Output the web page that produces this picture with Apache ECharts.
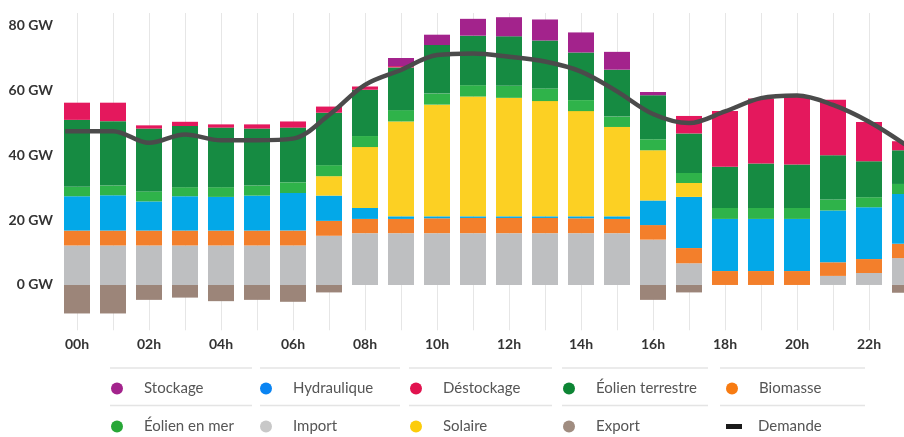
<!DOCTYPE html>
<html>
<head>
<meta charset="utf-8">
<script src="https://cdn.jsdelivr.net/npm/echarts@6/dist/echarts.min.js"></script>
<style>
  html, body { margin: 0; padding: 0; background: #fff; }
  #chart { width: 904px; height: 437px; }
</style>
</head>
<body>
<div id="chart"></div>
<script>
const HOURS = ['00h', '01h', '02h', '03h', '04h', '05h', '06h', '07h', '08h', '09h', '10h', '11h',
  '12h', '13h', '14h', '15h', '16h', '17h', '18h', '19h', '20h', '21h', '22h', '23h'];
const Y_TICKS = [0, 20, 40, 60, 80];

// GW
const importGW = [12.2, 12.2, 12.2, 12.2, 12.2, 12.2, 12.2, 15.2, 16.0, 16.0, 16.0, 16.0,
  16.0, 16.0, 16.0, 16.0, 14.0, 6.7, 0, 0, 0, 2.8, 3.7, 8.3];
const biomasse = [4.6, 4.6, 4.6, 4.6, 4.6, 4.6, 4.6, 4.6, 4.4, 4.4, 4.6, 4.7,
  4.7, 4.7, 4.6, 4.4, 4.5, 4.7, 4.3, 4.3, 4.3, 4.2, 4.3, 4.4];
const hydraulique = [10.6, 10.9, 9.0, 10.6, 10.4, 10.8, 11.6, 7.8, 3.4, 0.8, 0.6, 0.5,
  0.5, 0.5, 0.6, 0.8, 7.6, 15.8, 16.1, 16.1, 16.1, 16.0, 16.0, 15.4];
const solaire = [0, 0, 0, 0, 0, 0, 0, 6.0, 18.8, 29.3, 34.5, 37.0,
  36.6, 35.6, 32.5, 27.6, 15.5, 4.3, 0, 0, 0, 0, 0, 0];
const eolienMer = [2.9, 3.0, 3.1, 2.8, 3.0, 3.1, 3.3, 3.4, 3.4, 3.5, 3.4, 3.5,
  3.7, 3.9, 3.4, 3.2, 3.4, 3.1, 3.4, 3.4, 3.4, 3.4, 3.1, 3.1];
const eolienTerrestre = [20.7, 19.9, 19.4, 18.9, 18.4, 17.6, 16.9, 16.2, 14.3, 13.2, 15.0, 15.3,
  15.3, 14.8, 14.7, 14.5, 13.6, 12.2, 12.7, 13.7, 13.4, 13.7, 11.1, 10.4];
const destockage = [5.3, 5.7, 1.0, 1.3, 1.0, 1.3, 1.9, 1.9, 1.0, 0.4, 0, 0,
  0, 0, 0, 0, 0, 5.4, 17.2, 20.1, 21.2, 17.1, 12.1, 2.8];
const stockage = [0, 0, 0, 0, 0, 0, 0, 0, 0, 2.5, 3.2, 5.2,
  5.9, 6.5, 6.2, 5.5, 1.0, 0, 0, 0, 0, 0, 0, 0];
const exportGW = [-8.8, -8.8, -4.6, -3.9, -5.0, -4.6, -5.2, -2.3, 0, 0, 0, 0,
  0, 0, 0, 0, -4.6, -2.3, 0, 0, 0, 0, 0, -2.4];

// demand curve starts a little before 00h
const demandeHeures = [-0.33, 0, 1, 2, 3, 4, 5, 6, 7, 8, 9, 10, 11,
  12, 13, 14, 15, 16, 17, 18, 19, 20, 21, 22, 23];
const demande = [47.5, 47.5, 47.5, 43.9, 46.5, 44.7, 44.7, 45.2, 52.5, 61.8, 66.4, 71.0, 71.5,
  70.5, 69.0, 65.9, 59.8, 52.8, 50.0, 53.6, 57.7, 58.5, 55.6, 50.4, 43.4];

const COLORS = {
  'Stockage': '#a3238c',
  'Hydraulique': '#03a8e8',
  'Déstockage': '#e4185d',
  'Éolien terrestre': '#168b42',
  'Biomasse': '#f37f2b',
  'Éolien en mer': '#2fb34a',
  'Import': '#bebfc1',
  'Solaire': '#fcd023',
  'Export': '#9c8579',
  'Demande': '#4b4b4b'
};
const LEGEND_ICON = {
  'Stockage': '#a3238c', 'Hydraulique': '#0a84f2', 'Déstockage': '#e1134f',
  'Éolien terrestre': '#0d8534', 'Biomasse': '#f77b12', 'Éolien en mer': '#27a737',
  'Import': '#c8c8c8', 'Solaire': '#fccc0a', 'Export': '#a08c80', 'Demande': '#1a1a1a'
};

const FONT = 'Lato, "Noto Sans", sans-serif';

function barSeries(name, data) {
  return {
    name: name,
    type: 'bar',
    stack: 'total',
    data: data,
    barWidth: 26,
    itemStyle: { color: COLORS[name] },
    emphasis: { disabled: true }
  };
}

// legend layout: 5 columns x 2 rows
const LEGEND_ROWS = [
  ['Stockage', 'Hydraulique', 'Déstockage', 'Éolien terrestre', 'Biomasse'],
  ['Éolien en mer', 'Import', 'Solaire', 'Export', 'Demande']
];
const COL_X = [111, 260, 410, 563, 726];
const ROW_Y = [381, 419];

const legends = [];
LEGEND_ROWS.forEach((row, r) => {
  row.forEach((name, c) => {
    const isLine = name === 'Demande';
    legends.push({
      data: [{
        name: name,
        icon: isLine ? 'rect' : 'circle',
        itemStyle: { color: LEGEND_ICON[name] }
      }],
      left: COL_X[c],
      top: ROW_Y[r],
      padding: 0,
      itemWidth: isLine ? 16 : 12,
      itemHeight: isLine ? 5 : 12,
      selectedMode: false,
      textStyle: {
        fontFamily: FONT,
        fontSize: 15,
        color: '#555',
        padding: [0, 0, 0, isLine ? 11 : 16]
      }
    });
  });
});

const sepLines = [];
const SEG = [[110, 252], [260, 400], [409, 552], [562, 708], [720, 865]];
[368, 405.5].forEach((y) => {
  SEG.forEach((s) => {
    sepLines.push({
      type: 'line',
      shape: { x1: s[0], y1: y, x2: s[1], y2: y },
      style: { stroke: '#e4e4e4', lineWidth: 1.5 },
      silent: true
    });
  });
});

const chart = echarts.init(document.getElementById('chart'), null, { renderer: 'canvas' });
chart.setOption({
  animation: false,
  backgroundColor: '#fff',
  grid: { left: 59, top: 13, width: 864, height: 317.3, outerBoundsMode: 'none', containLabel: false },
  xAxis: [{
    type: 'category',
    data: HOURS,
    axisLine: { show: false },
    axisTick: { show: false },
    axisLabel: {
      interval: 1,
      margin: 7,
      fontFamily: FONT,
      fontWeight: 'bold',
      fontSize: 14,
      color: '#333'
    },
    splitLine: {
      show: true,
      interval: 0,
      alignWithLabel: true,
      lineStyle: { color: '#e6e6e6', width: 1 }
    }
  }, {
    // same time span as the category bands, for the demand curve
    type: 'value',
    min: -0.5,
    max: 23.5,
    show: false
  }],
  yAxis: {
    type: 'value',
    min: -14,
    max: 84,
    splitLine: { show: false },
    axisLine: { show: false },
    axisTick: { show: false },
    axisLabel: {
      customValues: Y_TICKS,
      formatter: (v) => v + ' GW',
      margin: 6,
      fontFamily: FONT,
      fontWeight: 'bold',
      fontSize: 14,
      color: '#333'
    }
  },
  legend: legends,
  graphic: sepLines,
  series: [
    barSeries('Import', importGW),
    barSeries('Biomasse', biomasse),
    barSeries('Hydraulique', hydraulique),
    barSeries('Solaire', solaire),
    barSeries('Éolien en mer', eolienMer),
    barSeries('Éolien terrestre', eolienTerrestre),
    barSeries('Déstockage', destockage),
    barSeries('Stockage', stockage),
    barSeries('Export', exportGW),
    {
      name: 'Demande',
      type: 'line',
      xAxisIndex: 1,
      data: demandeHeures.map((h, i) => [h, demande[i]]),
      smooth: 0.35,
      symbol: 'none',
      z: 5,
      lineStyle: { color: COLORS['Demande'], width: 4.5 },
      itemStyle: { color: COLORS['Demande'] },
      emphasis: { disabled: true }
    }
  ]
});
</script>
</body>
</html>
